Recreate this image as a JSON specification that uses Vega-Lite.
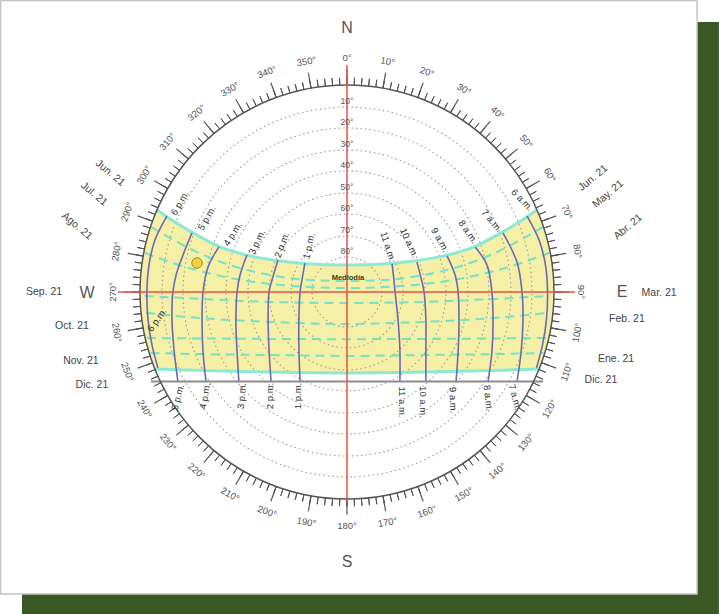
{
"$schema": "https://vega.github.io/schema/vega-lite/v6.json",
"width": 694, "height": 584,
"autosize": {"type": "none"},
"padding": {"left": 0, "top": 0, "right": 25, "bottom": 30},
"background": "white",
"config": {"view": {"stroke": null}},
"datasets": {
"band": [
{"x":-90,"top":0,"bot":0},{"x":-89,"top":13.4,"bot":-13.4},{"x":-88,"top":18.9,"bot":-18.9},{"x":-87,"top":23.0,"bot":-23.0},{"x":-86,"top":26.5,"bot":-26.5},{"x":-85,"top":29.6,"bot":-29.6},{"x":-84,"top":32.3,"bot":-32.3},{"x":-83.5,"top":33.6,"bot":-33.5},{"x":-82.6,"top":35.7,"bot":-33.6},{"x":-74.8,"top":30.4,"bot":-33.9},{"x":-67.0,"top":25.7,"bot":-34.1},{"x":-55.2,"top":19.6,"bot":-34.4},{"x":-42.2,"top":15.7,"bot":-34.7},{"x":-29.1,"top":13.5,"bot":-34.9},{"x":-16.1,"top":12.2,"bot":-35.1},{"x":0,"top":11.7,"bot":-35.2},
{"x":16.1,"top":12.2,"bot":-35.1},{"x":29.1,"top":13.5,"bot":-34.9},{"x":42.2,"top":15.7,"bot":-34.7},{"x":55.2,"top":19.6,"bot":-34.4},{"x":67.0,"top":25.7,"bot":-34.1},{"x":74.8,"top":30.4,"bot":-33.9},{"x":82.6,"top":35.7,"bot":-33.6},{"x":83.5,"top":33.6,"bot":-33.5},{"x":84,"top":32.3,"bot":-32.3},{"x":85,"top":29.6,"bot":-29.6},{"x":86,"top":26.5,"bot":-26.5},{"x":87,"top":23.0,"bot":-23.0},{"x":88,"top":18.9,"bot":-18.9},{"x":89,"top":13.4,"bot":-13.4},{"x":90,"top":0,"bot":0}
],
"solid": [
{"g":"jun","x":-82.6,"y":35.7},{"g":"jun","x":-74.8,"y":30.4},{"g":"jun","x":-67.0,"y":25.7},{"g":"jun","x":-55.2,"y":19.6},{"g":"jun","x":-42.2,"y":15.7},{"g":"jun","x":-29.1,"y":13.5},{"g":"jun","x":-16.1,"y":12.2},{"g":"jun","x":0,"y":11.7},{"g":"jun","x":16.1,"y":12.2},{"g":"jun","x":29.1,"y":13.5},{"g":"jun","x":42.2,"y":15.7},{"g":"jun","x":55.2,"y":19.6},{"g":"jun","x":67.0,"y":25.7},{"g":"jun","x":74.8,"y":30.4},{"g":"jun","x":82.6,"y":35.7},
{"g":"dic","x":-83.5,"y":-33.5},{"g":"dic","x":-55.2,"y":-34.4},{"g":"dic","x":-29.1,"y":-34.9},{"g":"dic","x":0,"y":-35.2},{"g":"dic","x":29.1,"y":-34.9},{"g":"dic","x":55.2,"y":-34.4},{"g":"dic","x":83.5,"y":-33.5}
],
"dashed": [
{"g":"d1","x":-85.2,"y":28.3},{"g":"d1","x":-77.0,"y":23.5},{"g":"d1","x":-66.1,"y":17.8},{"g":"d1","x":-50.9,"y":11.7},{"g":"d1","x":-33.5,"y":7.4},{"g":"d1","x":-16.1,"y":5.2},{"g":"d1","x":0,"y":4.8},{"g":"d1","x":16.1,"y":5.2},{"g":"d1","x":33.5,"y":7.4},{"g":"d1","x":50.9,"y":11.7},{"g":"d1","x":66.1,"y":17.8},{"g":"d1","x":77.0,"y":23.5},{"g":"d1","x":85.2,"y":28.3},
{"g":"d2","x":-87.8,"y":17.0},{"g":"d2","x":-77.0,"y":13.0},{"g":"d2","x":-63.9,"y":9.1},{"g":"d2","x":-48.7,"y":5.7},{"g":"d2","x":-33.5,"y":3.5},{"g":"d2","x":-16.1,"y":2.2},{"g":"d2","x":0,"y":1.7},{"g":"d2","x":16.1,"y":2.2},{"g":"d2","x":33.5,"y":3.5},{"g":"d2","x":48.7,"y":5.7},{"g":"d2","x":63.9,"y":9.1},{"g":"d2","x":77.0,"y":13.0},{"g":"d2","x":87.8,"y":17.0},
{"g":"d3","x":-88.0,"y":-1.7},{"g":"d3","x":-63.9,"y":-3.0},{"g":"d3","x":-33.5,"y":-4.3},{"g":"d3","x":0,"y":-4.8},{"g":"d3","x":33.5,"y":-4.3},{"g":"d3","x":63.9,"y":-3.0},{"g":"d3","x":88.0,"y":-1.7},
{"g":"d4","x":-87.4,"y":-9.1},{"g":"d4","x":-63.9,"y":-11.3},{"g":"d4","x":-33.5,"y":-13.0},{"g":"d4","x":0,"y":-13.9},{"g":"d4","x":33.5,"y":-13.0},{"g":"d4","x":63.9,"y":-11.3},{"g":"d4","x":87.4,"y":-9.1},
{"g":"d5","x":-87.0,"y":-20.0},{"g":"d5","x":-63.9,"y":-20.2},{"g":"d5","x":-33.5,"y":-20.4},{"g":"d5","x":0,"y":-20.5},{"g":"d5","x":33.5,"y":-20.4},{"g":"d5","x":63.9,"y":-20.2},{"g":"d5","x":87.0,"y":-20.0},
{"g":"d6","x":-85.4,"y":-26.5},{"g":"d6","x":-63.9,"y":-27.0},{"g":"d6","x":-33.5,"y":-27.4},{"g":"d6","x":0,"y":-27.8},{"g":"d6","x":33.5,"y":-27.4},{"g":"d6","x":63.9,"y":-27.0},{"g":"d6","x":85.4,"y":-26.5}
],
"hours": [
{"h":18,"i":0,"x":-78.3,"y":33.0},{"h":18,"i":1,"x":-83.5,"y":22.6},{"h":18,"i":2,"x":-86.1,"y":11.7},{"h":18,"i":3,"x":-87.0,"y":0},{"h":18,"i":4,"x":-86.5,"y":-12.2},{"h":18,"i":5,"x":-84.8,"y":-23.0},{"h":18,"i":6,"x":-82.2,"y":-33.0},
{"h":17,"i":0,"x":-67.4,"y":25.7},{"h":17,"i":1,"x":-71.3,"y":16.1},{"h":17,"i":2,"x":-74.3,"y":7.4},{"h":17,"i":3,"x":-75.7,"y":0},{"h":17,"i":4,"x":-76.1,"y":-12.2},{"h":17,"i":5,"x":-75.2,"y":-25.2},{"h":17,"i":6,"x":-73.5,"y":-39.1},
{"h":16,"i":0,"x":-55.7,"y":19.6},{"h":16,"i":1,"x":-60.4,"y":10.9},{"h":16,"i":2,"x":-62.6,"y":0},{"h":16,"i":3,"x":-63.0,"y":-13.0},{"h":16,"i":4,"x":-62.6,"y":-26.1},{"h":16,"i":5,"x":-61.3,"y":-39.1},
{"h":15,"i":0,"x":-43.5,"y":16.1},{"h":15,"i":1,"x":-46.5,"y":7.4},{"h":15,"i":2,"x":-47.8,"y":0},{"h":15,"i":3,"x":-48.3,"y":-13.0},{"h":15,"i":4,"x":-47.8,"y":-26.1},{"h":15,"i":5,"x":-47.0,"y":-39.1},
{"h":14,"i":0,"x":-30.0,"y":13.9},{"h":14,"i":1,"x":-32.6,"y":5.2},{"h":14,"i":2,"x":-33.9,"y":0},{"h":14,"i":3,"x":-34.3,"y":-10.9},{"h":14,"i":4,"x":-33.9,"y":-25.2},{"h":14,"i":5,"x":-33.0,"y":-39.1},
{"h":13,"i":0,"x":-18.3,"y":12.6},{"h":13,"i":1,"x":-19.6,"y":5.2},{"h":13,"i":2,"x":-20.4,"y":0},{"h":13,"i":3,"x":-20.9,"y":-10.9},{"h":13,"i":4,"x":-20.9,"y":-25.2},{"h":13,"i":5,"x":-20.4,"y":-39.1},
{"h":11,"i":0,"x":19.6,"y":12.2},{"h":11,"i":1,"x":20.4,"y":5.2},{"h":11,"i":2,"x":20.9,"y":0},{"h":11,"i":3,"x":22.2,"y":-12.2},{"h":11,"i":4,"x":23.0,"y":-25.2},{"h":11,"i":5,"x":23.0,"y":-39.1},
{"h":10,"i":0,"x":30.4,"y":13.0},{"h":10,"i":1,"x":32.2,"y":6.1},{"h":10,"i":2,"x":33.5,"y":0},{"h":10,"i":3,"x":34.3,"y":-12.2},{"h":10,"i":4,"x":34.3,"y":-25.2},{"h":10,"i":5,"x":34.3,"y":-39.1},
{"h":9,"i":0,"x":43.5,"y":15.7},{"h":9,"i":1,"x":47.0,"y":7.4},{"h":9,"i":2,"x":48.3,"y":0},{"h":9,"i":3,"x":48.7,"y":-13.0},{"h":9,"i":4,"x":48.3,"y":-26.1},{"h":9,"i":5,"x":47.4,"y":-39.1},
{"h":8,"i":0,"x":55.7,"y":19.6},{"h":8,"i":1,"x":60.9,"y":11.7},{"h":8,"i":2,"x":63.0,"y":0},{"h":8,"i":3,"x":63.5,"y":-13.0},{"h":8,"i":4,"x":63.0,"y":-26.1},{"h":8,"i":5,"x":61.3,"y":-39.1},
{"h":7,"i":0,"x":67.8,"y":25.7},{"h":7,"i":1,"x":73.9,"y":13.0},{"h":7,"i":2,"x":76.1,"y":0},{"h":7,"i":3,"x":76.5,"y":-13.0},{"h":7,"i":4,"x":75.7,"y":-26.1},{"h":7,"i":5,"x":73.9,"y":-39.1},
{"h":6,"i":0,"x":78.3,"y":33.0},{"h":6,"i":1,"x":83.5,"y":22.6},{"h":6,"i":2,"x":86.3,"y":11.7},{"h":6,"i":3,"x":87.2,"y":0},{"h":6,"i":4,"x":86.7,"y":-12.2},{"h":6,"i":5,"x":85.0,"y":-23.0},{"h":6,"i":6,"x":82.4,"y":-33.0}
],
"rings": [
{"alt":10,"r":80.4,"lab":"10°"},{"alt":20,"r":71.3,"lab":"20°"},{"alt":30,"r":61.7,"lab":"30°"},{"alt":40,"r":52.6,"lab":"40°"},{"alt":50,"r":43.0,"lab":"50°"},{"alt":60,"r":33.9,"lab":"60°"},{"alt":70,"r":24.3,"lab":"70°"},{"alt":80,"r":15.2,"lab":"80°"}
],
"ticks2": [
{"az":0},{"az":2},{"az":4},{"az":6},{"az":8},{"az":10},{"az":12},{"az":14},{"az":16},{"az":18},{"az":20},{"az":22},{"az":24},{"az":26},{"az":28},{"az":30},{"az":32},{"az":34},{"az":36},{"az":38},{"az":40},{"az":42},{"az":44},{"az":46},{"az":48},{"az":50},{"az":52},{"az":54},{"az":56},{"az":58},{"az":60},{"az":62},{"az":64},{"az":66},{"az":68},{"az":70},{"az":72},{"az":74},{"az":76},{"az":78},{"az":80},{"az":82},{"az":84},{"az":86},{"az":88},{"az":90},{"az":92},{"az":94},{"az":96},{"az":98},{"az":100},{"az":102},{"az":104},{"az":106},{"az":108},{"az":110},{"az":112},{"az":114},{"az":116},{"az":118},{"az":120},{"az":122},{"az":124},{"az":126},{"az":128},{"az":130},{"az":132},{"az":134},{"az":136},{"az":138},{"az":140},{"az":142},{"az":144},{"az":146},{"az":148},{"az":150},{"az":152},{"az":154},{"az":156},{"az":158},{"az":160},{"az":162},{"az":164},{"az":166},{"az":168},{"az":170},{"az":172},{"az":174},{"az":176},{"az":178},{"az":180},{"az":182},{"az":184},{"az":186},{"az":188},{"az":190},{"az":192},{"az":194},{"az":196},{"az":198},{"az":200},{"az":202},{"az":204},{"az":206},{"az":208},{"az":210},{"az":212},{"az":214},{"az":216},{"az":218},{"az":220},{"az":222},{"az":224},{"az":226},{"az":228},{"az":230},{"az":232},{"az":234},{"az":236},{"az":238},{"az":240},{"az":242},{"az":244},{"az":246},{"az":248},{"az":250},{"az":252},{"az":254},{"az":256},{"az":258},{"az":260},{"az":262},{"az":264},{"az":266},{"az":268},{"az":270},{"az":272},{"az":274},{"az":276},{"az":278},{"az":280},{"az":282},{"az":284},{"az":286},{"az":288},{"az":290},{"az":292},{"az":294},{"az":296},{"az":298},{"az":300},{"az":302},{"az":304},{"az":306},{"az":308},{"az":310},{"az":312},{"az":314},{"az":316},{"az":318},{"az":320},{"az":322},{"az":324},{"az":326},{"az":328},{"az":330},{"az":332},{"az":334},{"az":336},{"az":338},{"az":340},{"az":342},{"az":344},{"az":346},{"az":348},{"az":350},{"az":352},{"az":354},{"az":356},{"az":358}
],
"ticks10": [
{"az":0,"t":"0°"},{"az":10,"t":"10°"},{"az":20,"t":"20°"},{"az":30,"t":"30°"},{"az":40,"t":"40°"},{"az":50,"t":"50°"},{"az":60,"t":"60°"},{"az":70,"t":"70°"},{"az":80,"t":"80°"},{"az":90,"t":"90°"},{"az":100,"t":"100°"},{"az":110,"t":"110°"},{"az":120,"t":"120°"},{"az":130,"t":"130°"},{"az":140,"t":"140°"},{"az":150,"t":"150°"},{"az":160,"t":"160°"},{"az":170,"t":"170°"},{"az":180,"t":"180°"},{"az":190,"t":"190°"},{"az":200,"t":"200°"},{"az":210,"t":"210°"},{"az":220,"t":"220°"},{"az":230,"t":"230°"},{"az":240,"t":"240°"},{"az":250,"t":"250°"},{"az":260,"t":"260°"},{"az":270,"t":"270°"},{"az":280,"t":"280°"},{"az":290,"t":"290°"},{"az":300,"t":"300°"},{"az":310,"t":"310°"},{"az":320,"t":"320°"},{"az":330,"t":"330°"},{"az":340,"t":"340°"},{"az":350,"t":"350°"}
]
},
"layer": [
{"data": {"values": [{"x":-141.3,"x2":161.7,"y":117.4,"y2":-140.0}]},
 "mark": {"type":"rect","fill":"#3b5824"},
 "encoding": {
  "x": {"field":"x","type":"quantitative","scale":{"type":"linear","domain":[-150.87,150.87],"nice":false,"zero":false},"axis":null},
  "x2": {"field":"x2"},
  "y": {"field":"y","type":"quantitative","scale":{"type":"linear","domain":[-126.96,126.96],"nice":false,"zero":false},"axis":null},
  "y2": {"field":"y2"}}},
{"data": {"values": [{"x":-150.6,"x2":152.2,"y":126.7,"y2":-131.3}]},
 "mark": {"type":"rect","fill":"#ffffff","stroke":"#c4c4c4","strokeWidth":1.5},
 "encoding": {
  "x": {"field":"x","type":"quantitative","scale":{"type":"linear","domain":[-150.87,150.87],"nice":false,"zero":false},"axis":null},
  "x2": {"field":"x2"},
  "y": {"field":"y","type":"quantitative","scale":{"type":"linear","domain":[-126.96,126.96],"nice":false,"zero":false},"axis":null},
  "y2": {"field":"y2"}}},
{"data": {"name":"band"},
 "mark": {"type":"area","fill":"#f5f0a6","interpolate":"monotone"},
 "encoding": {
  "x": {"field":"x","type":"quantitative","scale":{"type":"linear","domain":[-150.87,150.87],"nice":false,"zero":false},"axis":null},
  "y": {"field":"top","type":"quantitative","scale":{"type":"linear","domain":[-126.96,126.96],"nice":false,"zero":false},"axis":null},
  "y2": {"field":"bot"}}},
{"data": {"name":"rings"},
 "mark": {"type":"arc","fillOpacity":0,"stroke":"#9a9a9a","strokeWidth":1.1,"strokeDash":[1.5,3],"theta":0,"theta2":6.2832},
 "encoding": {
  "radius": {"field":"r","type":"quantitative","stack":null,"scale":{"type":"linear","domain":[0,90],"range":[0,207],"zero":true,"nice":false}}}},
{"data": {"name":"dashed"},
 "mark": {"type":"line","color":"#72e2c8","strokeWidth":2,"strokeDash":[9,6],"interpolate":"monotone"},
 "encoding": {
  "x": {"field":"x","type":"quantitative","scale":{"type":"linear","domain":[-150.87,150.87],"nice":false,"zero":false},"axis":null},
  "y": {"field":"y","type":"quantitative","scale":{"type":"linear","domain":[-126.96,126.96],"nice":false,"zero":false},"axis":null},
  "detail": {"field":"g","type":"nominal"}}},
{"data": {"name":"solid"},
 "mark": {"type":"line","color":"#8ee8d6","strokeWidth":3,"interpolate":"monotone"},
 "encoding": {
  "x": {"field":"x","type":"quantitative","scale":{"type":"linear","domain":[-150.87,150.87],"nice":false,"zero":false},"axis":null},
  "y": {"field":"y","type":"quantitative","scale":{"type":"linear","domain":[-126.96,126.96],"nice":false,"zero":false},"axis":null},
  "detail": {"field":"g","type":"nominal"}}},
{"data": {"name":"hours"},
 "mark": {"type":"line","color":"#6a6ab6","strokeWidth":1.6,"interpolate":"catmull-rom"},
 "encoding": {
  "x": {"field":"x","type":"quantitative","scale":{"type":"linear","domain":[-150.87,150.87],"nice":false,"zero":false},"axis":null},
  "y": {"field":"y","type":"quantitative","scale":{"type":"linear","domain":[-126.96,126.96],"nice":false,"zero":false},"axis":null},
  "detail": {"field":"h","type":"nominal"},
  "order": {"field":"i","type":"quantitative"}}},
{"data": {"values": [{"x":-85.2,"x2":85.2,"y":-38.9,"y2":-38.9}]},
 "mark": {"type":"rule","color":"#8c8c8c","strokeWidth":2},
 "encoding": {
  "x": {"field":"x","type":"quantitative","scale":{"type":"linear","domain":[-150.87,150.87],"nice":false,"zero":false},"axis":null},
  "x2": {"field":"x2"},
  "y": {"field":"y","type":"quantitative","scale":{"type":"linear","domain":[-126.96,126.96],"nice":false,"zero":false},"axis":null},
  "y2": {"field":"y2"}}},
{"data": {"values": [{"k":0}]},
 "mark": {"type":"arc","fillOpacity":0,"stroke":"#555555","strokeWidth":1.5,"theta":0,"theta2":6.2832},
 "encoding": {
  "radius": {"datum":90,"type":"quantitative","stack":null,"scale":{"type":"linear","domain":[0,90],"range":[0,207],"zero":true,"nice":false}}}},
{"data": {"name":"ticks2"},
 "mark": {"type":"arc","fillOpacity":0,"stroke":"#555555","strokeWidth":1},
 "encoding": {
  "theta": {"field":"az","type":"quantitative","stack":null,"scale":{"type":"linear","domain":[0,360],"range":[0,6.283185307179586],"zero":true,"nice":false}},
  "theta2": {"field":"az"},
  "radius": {"datum":90,"type":"quantitative","scale":{"type":"linear","domain":[0,90],"range":[0,207],"zero":true,"nice":false}},
  "radius2": {"datum":93.2}}},
{"data": {"name":"ticks10"},
 "mark": {"type":"arc","fillOpacity":0,"stroke":"#555555","strokeWidth":1.2},
 "encoding": {
  "theta": {"field":"az","type":"quantitative","stack":null,"scale":{"type":"linear","domain":[0,360],"range":[0,6.283185307179586],"zero":true,"nice":false}},
  "theta2": {"field":"az"},
  "radius": {"datum":90,"type":"quantitative","scale":{"type":"linear","domain":[0,90],"range":[0,207],"zero":true,"nice":false}},
  "radius2": {"datum":96.8}}},
{"data": {"values": [{"x":-99.6,"x2":99.1,"y":0,"y2":0},{"x":0,"x2":0,"y":98.7,"y2":-91.3}]},
 "mark": {"type":"rule","color":"#e8504a","strokeWidth":1.5},
 "encoding": {
  "x": {"field":"x","type":"quantitative","scale":{"type":"linear","domain":[-150.87,150.87],"nice":false,"zero":false},"axis":null},
  "x2": {"field":"x2"},
  "y": {"field":"y","type":"quantitative","scale":{"type":"linear","domain":[-126.96,126.96],"nice":false,"zero":false},"axis":null},
  "y2": {"field":"y2"}}},
{"data": {"name":"ticks10"},
 "mark": {"type":"text","font":"Liberation Sans","fontSize":9.5,"color":"#555555","align":"center","baseline":"middle"},
 "encoding": {
  "theta": {"field":"az","type":"quantitative","stack":null,"scale":{"type":"linear","domain":[0,360],"range":[0,6.283185307179586],"zero":true,"nice":false}},
  "radius": {"datum":101.7,"type":"quantitative","scale":{"type":"linear","domain":[0,90],"range":[0,207],"zero":true,"nice":false}},
  "angle": {"field":"az","type":"quantitative","scale":{"type":"linear","domain":[0,90,95,265,270,360],"range":[0,90,-85,85,-90,0]},"legend":null},
  "text": {"field":"t","type":"nominal"}}},
{"data": {"name":"rings"},
 "mark": {"type":"text","font":"Liberation Sans","fontSize":8.5,"color":"#555555","align":"center","baseline":"middle","dy":-6},
 "encoding": {
  "theta": {"datum":0,"type":"quantitative","scale":{"type":"linear","domain":[0,360],"range":[0,6.283185307179586],"zero":true,"nice":false}},
  "radius": {"field":"r","type":"quantitative","stack":null,"scale":{"type":"linear","domain":[0,90],"range":[0,207],"zero":true,"nice":false}},
  "text": {"field":"lab","type":"nominal"}}},
{"data": {"values": [
 {"h":18,"lab":"6 p.m.","x":-72.6,"y":38.7},{"h":17,"lab":"5 p.m.","x":-60.9,"y":32.2},{"h":16,"lab":"4 p.m.","x":-49.6,"y":25.2},{"h":15,"lab":"3 p.m.","x":-39.1,"y":21.7},{"h":14,"lab":"2 p.m.","x":-28.3,"y":20.4},{"h":13,"lab":"1 p.m.","x":-16.5,"y":20.0},
 {"h":11,"lab":"11 a.m.","x":17.8,"y":19.6},{"h":10,"lab":"10 a.m.","x":27.0,"y":21.3},{"h":9,"lab":"9 a.m.","x":40.4,"y":22.6},{"h":8,"lab":"8 a.m.","x":52.6,"y":26.1},{"h":7,"lab":"7 a.m.","x":63.0,"y":30.9},{"h":6,"lab":"6 a.m.","x":76.1,"y":40.0}]},
 "mark": {"type":"text","font":"Liberation Sans","fontSize":9.5,"color":"#333333","align":"center","baseline":"middle"},
 "encoding": {
  "x": {"field":"x","type":"quantitative","scale":{"type":"linear","domain":[-150.87,150.87],"nice":false,"zero":false},"axis":null},
  "y": {"field":"y","type":"quantitative","scale":{"type":"linear","domain":[-126.96,126.96],"nice":false,"zero":false},"axis":null},
  "angle": {"field":"h","type":"quantitative","scale":{"type":"linear","domain":[6,7,8,9,10,11,13,14,15,16,17,18],"range":[45,50,55,60,65,72,-78,-70,-65,-58,-60,-60]},"legend":null},
  "text": {"field":"lab","type":"nominal"}}},
{"data": {"values": [
 {"h":17,"lab":"5 p.m.","x":-73.5,"y":-45.7},{"h":16,"lab":"4 p.m.","x":-61.7,"y":-45.2},{"h":15,"lab":"3 p.m.","x":-45.7,"y":-45.2},{"h":14,"lab":"2 p.m.","x":-33.5,"y":-45.2},{"h":13,"lab":"1 p.m.","x":-21.3,"y":-45.2},
 {"h":11,"lab":"11 a.m.","x":23.9,"y":-47.8},{"h":10,"lab":"10 a.m.","x":33.0,"y":-47.8},{"h":9,"lab":"9 a.m.","x":46.1,"y":-47.0},{"h":8,"lab":"8 a.m.","x":61.3,"y":-46.1},{"h":7,"lab":"7 a.m.","x":73.0,"y":-45.7},
 {"h":18,"lab":"6 p.m.","x":-82.6,"y":-12.2}]},
 "mark": {"type":"text","font":"Liberation Sans","fontSize":9.5,"color":"#333333","align":"center","baseline":"middle"},
 "encoding": {
  "x": {"field":"x","type":"quantitative","scale":{"type":"linear","domain":[-150.87,150.87],"nice":false,"zero":false},"axis":null},
  "y": {"field":"y","type":"quantitative","scale":{"type":"linear","domain":[-126.96,126.96],"nice":false,"zero":false},"axis":null},
  "angle": {"field":"h","type":"quantitative","scale":{"type":"linear","domain":[7,8,9,10,11,13,14,15,16,17,18],"range":[75,85,88,90,90,-90,-90,-85,-80,-75,-55]},"legend":null},
  "text": {"field":"lab","type":"nominal"}}},
{"data": {"values": [{"lab":"Jun. 21","x":-103.0,"y":51.7},{"lab":"Jul. 21","x":-110.0,"y":42.6},{"lab":"Ago. 21","x":-117.4,"y":28.7}]},
 "mark": {"type":"text","font":"Liberation Sans","fontSize":10.5,"color":"#444444","align":"center","baseline":"middle","angle":40},
 "encoding": {
  "x": {"field":"x","type":"quantitative","scale":{"type":"linear","domain":[-150.87,150.87],"nice":false,"zero":false},"axis":null},
  "y": {"field":"y","type":"quantitative","scale":{"type":"linear","domain":[-126.96,126.96],"nice":false,"zero":false},"axis":null},
  "text": {"field":"lab","type":"nominal"}}},
{"data": {"values": [{"lab":"Jun. 21","x":107.0,"y":49.6},{"lab":"May. 21","x":113.5,"y":42.6},{"lab":"Abr. 21","x":122.2,"y":28.3}]},
 "mark": {"type":"text","font":"Liberation Sans","fontSize":10.5,"color":"#444444","align":"center","baseline":"middle","angle":-40},
 "encoding": {
  "x": {"field":"x","type":"quantitative","scale":{"type":"linear","domain":[-150.87,150.87],"nice":false,"zero":false},"axis":null},
  "y": {"field":"y","type":"quantitative","scale":{"type":"linear","domain":[-126.96,126.96],"nice":false,"zero":false},"axis":null},
  "text": {"field":"lab","type":"nominal"}}},
{"data": {"values": [
 {"lab":"Sep. 21","x":-131.7,"y":0},{"lab":"Oct. 21","x":-119.6,"y":-14.8},{"lab":"Nov. 21","x":-115.7,"y":-30.0},{"lab":"Dic. 21","x":-110.9,"y":-40.4},
 {"lab":"Mar. 21","x":135.7,"y":-0.4},{"lab":"Feb. 21","x":121.7,"y":-11.7},{"lab":"Ene. 21","x":117.0,"y":-29.1},{"lab":"Dic. 21","x":110.4,"y":-38.3}]},
 "mark": {"type":"text","font":"Liberation Sans","fontSize":10.5,"color":"#444444","align":"center","baseline":"middle"},
 "encoding": {
  "x": {"field":"x","type":"quantitative","scale":{"type":"linear","domain":[-150.87,150.87],"nice":false,"zero":false},"axis":null},
  "y": {"field":"y","type":"quantitative","scale":{"type":"linear","domain":[-126.96,126.96],"nice":false,"zero":false},"axis":null},
  "text": {"field":"lab","type":"nominal"}}},
{"data": {"values": [{"lab":"N","x":0,"y":114.8},{"lab":"S","x":0,"y":-117.4},{"lab":"W","x":-113.0,"y":-0.4},{"lab":"E","x":119.6,"y":0}]},
 "mark": {"type":"text","font":"Liberation Sans","fontSize":16,"color":"#555555","align":"center","baseline":"middle"},
 "encoding": {
  "x": {"field":"x","type":"quantitative","scale":{"type":"linear","domain":[-150.87,150.87],"nice":false,"zero":false},"axis":null},
  "y": {"field":"y","type":"quantitative","scale":{"type":"linear","domain":[-126.96,126.96],"nice":false,"zero":false},"axis":null},
  "text": {"field":"lab","type":"nominal"}}},
{"data": {"values": [{"lab":"Mediodía","x":0.4,"y":6.1}]},
 "mark": {"type":"text","font":"Liberation Sans","fontSize":7.5,"fontWeight":"bold","color":"#3a3a20","align":"center","baseline":"middle"},
 "encoding": {
  "x": {"field":"x","type":"quantitative","scale":{"type":"linear","domain":[-150.87,150.87],"nice":false,"zero":false},"axis":null},
  "y": {"field":"y","type":"quantitative","scale":{"type":"linear","domain":[-126.96,126.96],"nice":false,"zero":false},"axis":null},
  "text": {"field":"lab","type":"nominal"}}},
{"data": {"values": [{"x":-65.2,"y":12.6}]},
 "mark": {"type":"point","filled":true,"fill":"#f1d43c","stroke":"#9b8a1e","strokeWidth":1,"size":110,"opacity":1},
 "encoding": {
  "x": {"field":"x","type":"quantitative","scale":{"type":"linear","domain":[-150.87,150.87],"nice":false,"zero":false},"axis":null},
  "y": {"field":"y","type":"quantitative","scale":{"type":"linear","domain":[-126.96,126.96],"nice":false,"zero":false},"axis":null}}}
],
"resolve": {"scale": {"angle": "independent"}}
}
